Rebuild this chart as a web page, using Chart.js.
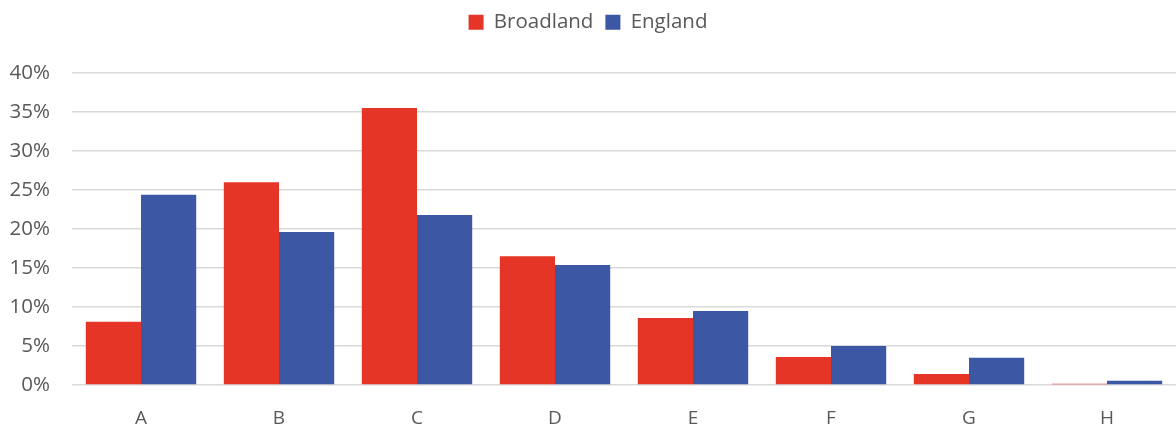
<!DOCTYPE html>
<html>
<head>
<meta charset="utf-8">
<script src="https://cdn.jsdelivr.net/npm/chart.js@4/dist/chart.umd.min.js"></script>
<style>
  html, body { margin: 0; padding: 0; background: #fff; }
  #wrap { width: 1176px; height: 428px; }
</style>
</head>
<body>
<div id="wrap"><canvas id="chart"></canvas></div>
<script>
// data
const categories = ['A', 'B', 'C', 'D', 'E', 'F', 'G', 'H'];
const broadland = [8.1, 26.0, 35.5, 16.5, 8.6, 3.6, 1.4, 0.15];
const england = [24.4, 19.6, 21.8, 15.4, 9.5, 5.0, 3.5, 0.55];

const FONT = "'Open Sans', sans-serif";
const GREY = '#595959';

// fix legend height so the plot starts where the reference does
const legendHeight = {
  id: 'legendHeight',
  beforeInit(chart) {
    const fit = chart.legend.fit;
    chart.legend.fit = function () {
      fit.call(this);
      this.height = 73;
    };
  }
};

new Chart(document.getElementById('chart'), {
  type: 'bar',
  data: {
    labels: categories,
    datasets: [
      {
        label: 'Broadland',
        data: broadland,
        backgroundColor: '#E43526',
        categoryPercentage: 0.8,
        barPercentage: 1.0
      },
      {
        label: 'England',
        data: england,
        backgroundColor: '#3C57A4',
        categoryPercentage: 0.8,
        barPercentage: 1.0
      }
    ]
  },
  options: {
    responsive: true,
    maintainAspectRatio: false,
    animation: false,
    layout: { padding: 0 },
    plugins: {
      legend: {
        position: 'top',
        labels: {
          boxWidth: 15,
          boxHeight: 15,
          padding: 12,
          color: GREY,
          font: { family: FONT, size: 20.5 }
        }
      },
      tooltip: { enabled: false }
    },
    scales: {
      x: {
        grid: { display: false },
        border: { display: false },
        ticks: {
          color: GREY,
          padding: 14,
          font: { family: FONT, size: 19 }
        },
        afterFit(scale) { scale.height = 43; }
      },
      y: {
        min: 0,
        max: 40,
        grid: { color: '#d9d9d9', lineWidth: 1.5, drawTicks: false },
        border: { display: false },
        ticks: {
          stepSize: 5,
          color: GREY,
          padding: 22,
          font: { family: FONT, size: 20.5 },
          callback: v => v + '%'
        },
        afterFit(scale) { scale.width = 72; }
      }
    }
  },
  plugins: [legendHeight]
});
</script>
</body>
</html>
